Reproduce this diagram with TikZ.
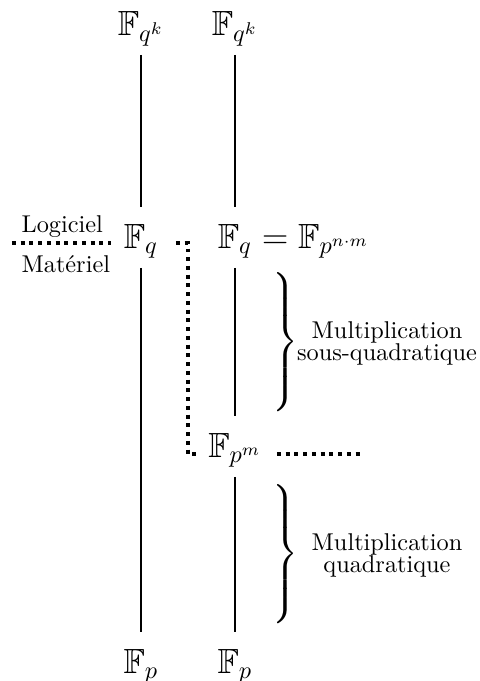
\documentclass[tikz,border=0pt]{standalone}
\usepackage{amssymb}

\tikzset{
	field/.style={font=\Large, inner sep=3pt, text height=13.5pt, text depth=5pt, anchor=base},
	link/.style={thick},
	frontier/.style={ultra thick, dotted},
	brace/.style={font=\large, anchor=west, inner sep=0pt},
	remark/.style={align=center}
}

\begin{document}
\begin{tikzpicture}[x=0.014463cm, y=-0.014463cm]
			%%%%% START %%%%%
			\useasboundingbox (0, 0) rectangle (480, 681);
			
			\node[field] (qk1) at (141, 35) {$\mathbb{F}_{q^k}$};
			\node[field] (qk2) at (235, 35) {$\mathbb{F}_{q^k}$};
			
			\node[field] (q1) at (141, 248) {$\mathbb{F}_q$};
			\node[field] (q2) at (235, 248) {$\mathbb{F}_q\rlap{${}=\mathbb{F}_{p^{n\cdot m}}$}$};
			
			\node[field] (pm) at (235, 457) {$\mathbb{F}_{p^m}$};
			
			\node[field] (p1) at (141, 673) {$\mathbb{F}_p$};
			\node[field] (p2) at (235, 673) {$\mathbb{F}_p$};
			
			\draw[link] (qk1) -- (q1);
			\draw[link] (q1) -- (p1);
			\draw[link] (qk2) -- (q2);
			\draw[link] (q2) -- (pm);
			\draw[link] (pm) -- (p2);
			
			\node[anchor=base west] (soft) at (13, 232) {Logiciel};
			\node[anchor=base west] (hard) at (13, 272) {Matériel};
			
			\draw[frontier] (12, 243) -- (111, 243);
			\draw[frontier] (176, 243) -- (188, 243) -- (188, 454) -- (196, 454);
			\draw[frontier] (277, 454) -- (364, 454);
			
			\node[brace] (brsq) at (269, 342) {$\left.\vcenter{\hrule height 58pt depth 0pt width 0pt}\right\}$};
			\node[remark] (txtsq) at (387, 343) {Multiplication\\[-3pt]sous-quadratique};
			
			\node[brace] (brq) at (269, 554) {$\left.\vcenter{\hrule height 58pt depth 0pt width 0pt}\right\}$};
			\node[remark] (txtq) at (387, 555) {Multiplication\\[-3pt]quadratique};
			
			%%%%% END %%%%%
\end{tikzpicture}
\end{document}
